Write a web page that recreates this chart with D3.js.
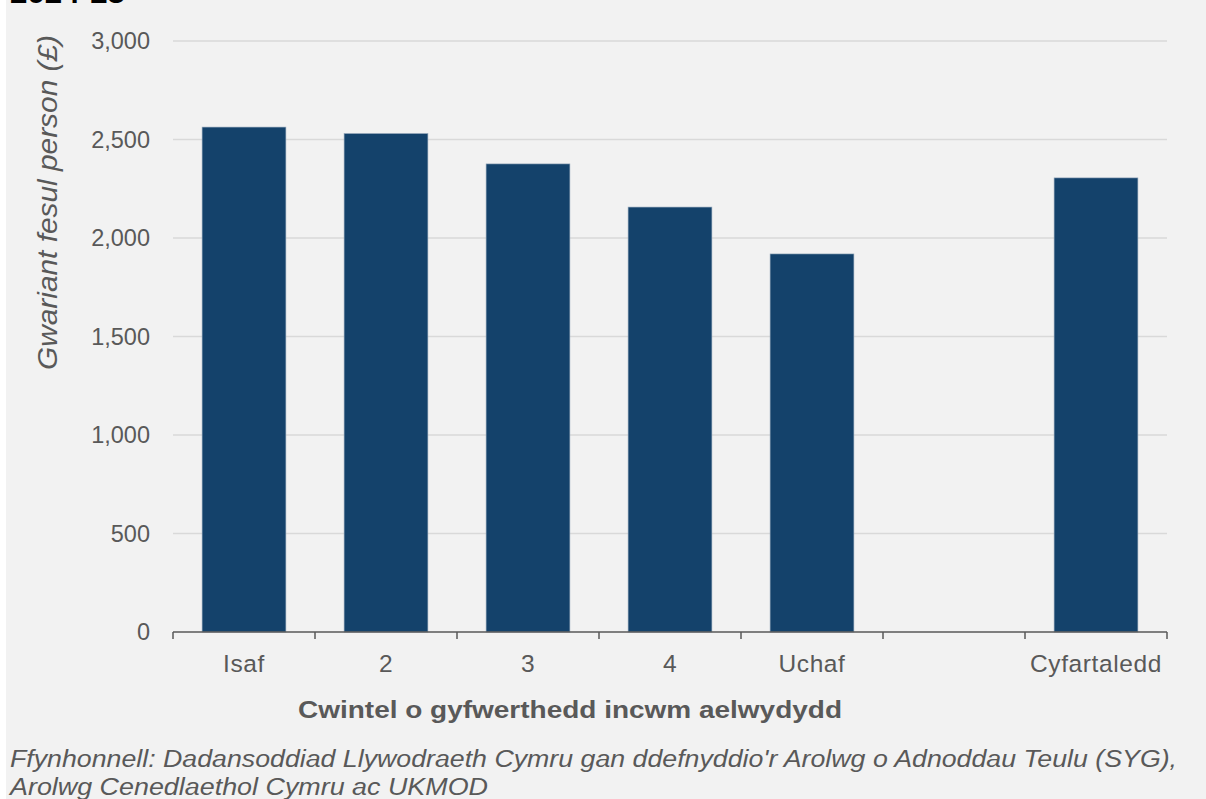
<!DOCTYPE html>
<html><head><meta charset="utf-8">
<script src="https://cdn.jsdelivr.net/npm/d3@7"></script>
<style>body{margin:0;background:#fff}svg{display:block}</style>
</head><body>
<svg id="c" width="1206" height="799"></svg>
<script>
const categories = ["Isaf","2","3","4","Uchaf","","Cyfartaledd"];
const values = [2563, 2530, 2376, 2157, 1919, null, 2305];
const yTicks = [0, 500, 1000, 1500, 2000, 2500, 3000];
const titleText = "2024-25";
const yTitle = "Gwariant fesul person (£)";
const xTitle = "Cwintel o gyfwerthedd incwm aelwydydd";
const sourceLines = ["Ffynhonnell: Dadansoddiad Llywodraeth Cymru gan ddefnyddio'r Arolwg o Adnoddau Teulu (SYG),",
                     "Arolwg Cenedlaethol Cymru ac UKMOD"];

(function(){
const svg = d3.select("#c");
const W = 1206, H = 799;
svg.append("rect").attr("x",6).attr("y",0).attr("width",W-6).attr("height",H).attr("fill","#f2f2f2");

const mLeft = 173, mRight = 1167, mTop = 41, mBottom = 632;
const x = d3.scaleBand().domain(categories.map((d,i)=>i)).range([mLeft,mRight]).paddingInner(0.41).paddingOuter(0.205);
const xb = d3.scaleBand().domain(categories.map((d,i)=>i)).range([mLeft,mRight]);
const y = d3.scaleLinear().domain([0,3000]).range([mBottom,mTop]);
const font = "Arial, 'Liberation Sans', sans-serif";

svg.append("g").selectAll("line").data(yTicks.filter(d=>d>0)).join("line")
  .attr("x1",mLeft).attr("x2",mRight).attr("y1",d=>y(d)).attr("y2",d=>y(d))
  .attr("stroke","#d9d9d9").attr("stroke-width",1.5);

svg.append("g").selectAll("text").data(yTicks).join("text")
  .attr("x",150).attr("y",d=>y(d)).attr("dy","0.35em").attr("text-anchor","end")
  .attr("font-family",font).attr("font-size",23.5).attr("fill","#595959")
  .text(d=>d3.format(",")(d));

svg.append("g").selectAll("rect").data(values.map((v,i)=>({v,i})).filter(d=>d.v!=null)).join("rect")
  .attr("x",d=>x(d.i)).attr("width",x.bandwidth())
  .attr("y",d=>y(d.v)).attr("height",d=>mBottom-y(d.v))
  .attr("fill","#14426b").attr("stroke","#8fa3b8").attr("stroke-width",0.6);

const gx = svg.append("g");
gx.append("line").attr("x1",mLeft).attr("x2",mRight).attr("y1",mBottom).attr("y2",mBottom)
  .attr("stroke","#595959").attr("stroke-width",1.5);
const tickPos = categories.map((d,i)=>xb(i)).concat([mRight]);
gx.selectAll("line.t").data(tickPos).join("line").attr("class","t")
  .attr("x1",d=>d).attr("x2",d=>d).attr("y1",mBottom).attr("y2",mBottom+7)
  .attr("stroke","#595959").attr("stroke-width",1.5);
gx.selectAll("text").data(categories).join("text")
  .attr("x",(d,i)=>xb(i)+xb.bandwidth()/2).attr("y",672).attr("text-anchor","middle")
  .attr("font-family",font).attr("font-size",24.5).attr("letter-spacing",0.6).attr("fill","#595959").text(d=>d);

svg.append("text").attr("x",10).attr("y",3).attr("font-family",font).attr("font-weight","bold")
  .attr("font-size",27).attr("textLength",115).attr("lengthAdjust","spacingAndGlyphs")
  .attr("fill","#000").text(titleText);
svg.append("text").attr("transform","translate(57,202.5) rotate(-90)").attr("text-anchor","middle")
  .attr("font-family",font).attr("font-style","italic").attr("font-size",27)
  .attr("textLength",335).attr("lengthAdjust","spacingAndGlyphs")
  .attr("fill","#595959").text(yTitle);
svg.append("text").attr("x",570).attr("y",718).attr("text-anchor","middle")
  .attr("font-family",font).attr("font-weight","bold").attr("font-size",24)
  .attr("textLength",544).attr("lengthAdjust","spacingAndGlyphs")
  .attr("fill","#595959").text(xTitle);
const srcLen = [1167, 478];
svg.append("g").selectAll("text").data(sourceLines).join("text")
  .attr("x",10).attr("y",(d,i)=>767+i*28)
  .attr("font-family",font).attr("font-style","italic").attr("font-size",23)
  .attr("textLength",(d,i)=>srcLen[i]).attr("lengthAdjust","spacingAndGlyphs")
  .attr("fill","#595959").text(d=>d);
})();
</script>
</body></html>
